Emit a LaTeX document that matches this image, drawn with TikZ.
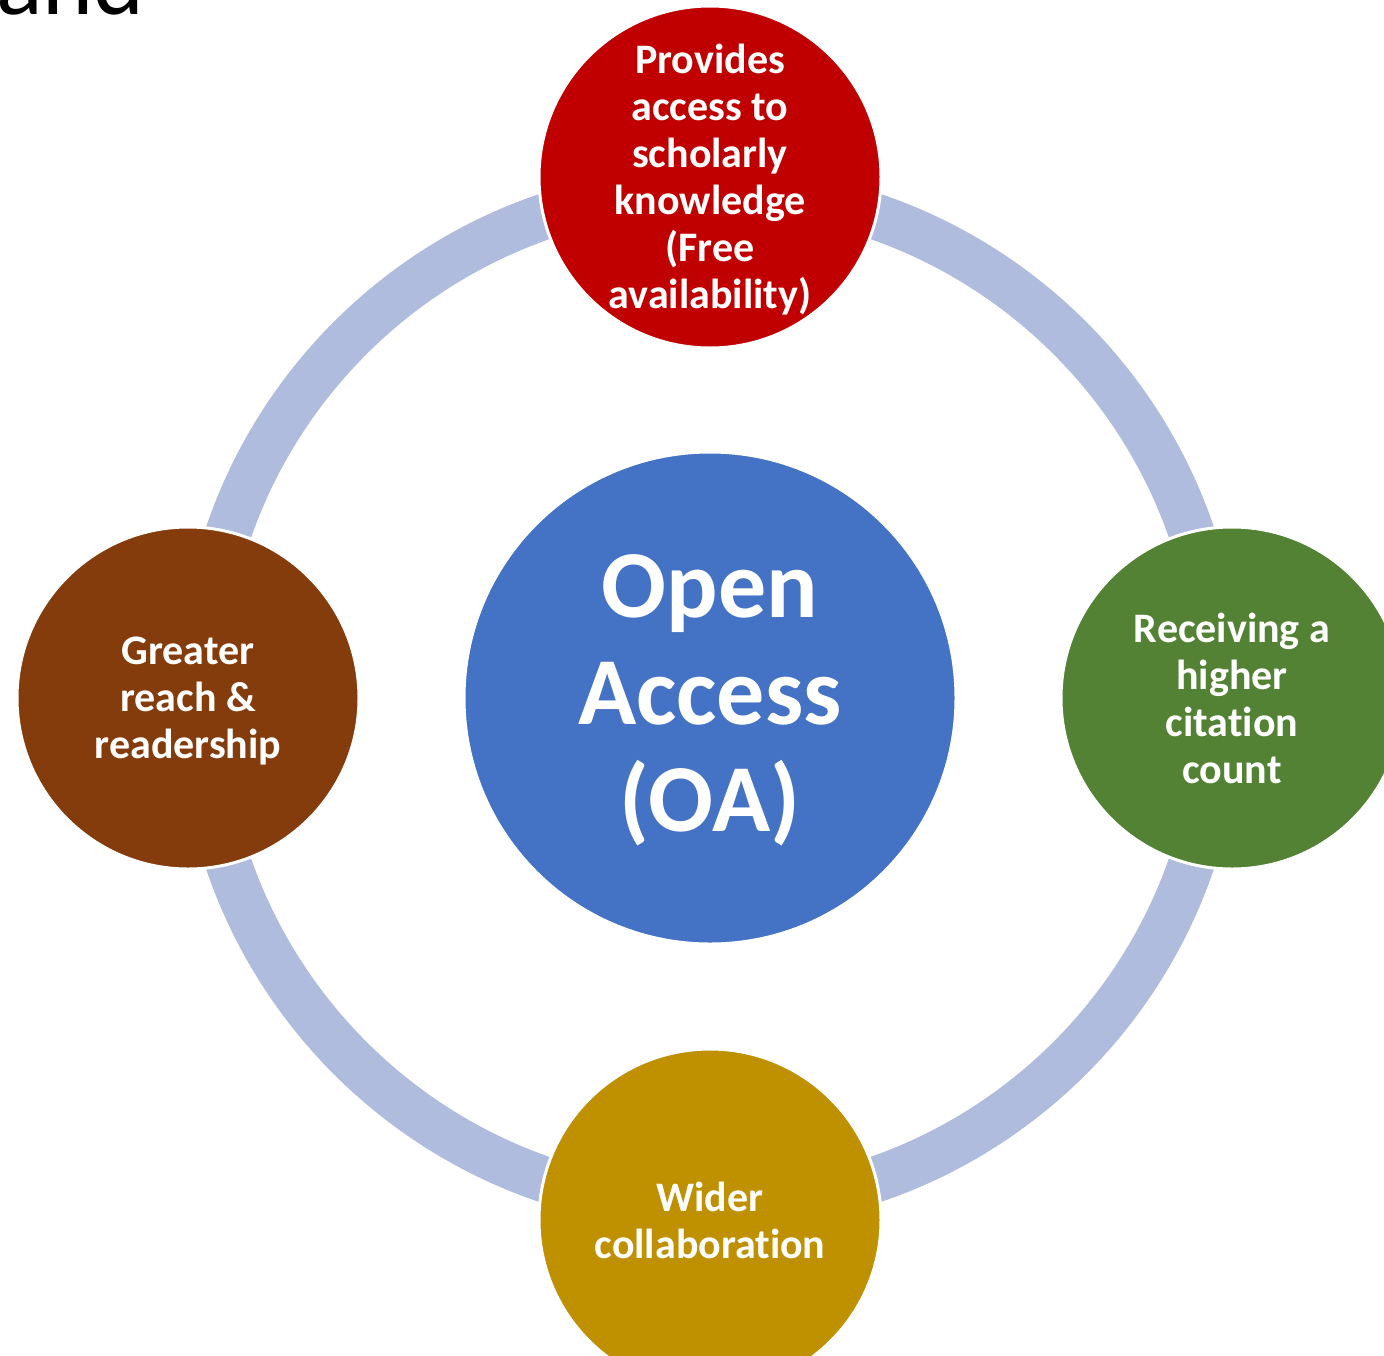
\documentclass[tikz,border=0pt]{standalone}
\usepackage{fontspec}
\setmainfont[RawFeature={-liga}]{Carlito}
\definecolor{ringc}{RGB}{176,188,222}
\definecolor{oared}{HTML}{C00000}
\definecolor{oabrown}{HTML}{843C0C}
\definecolor{oagreen}{HTML}{548235}
\definecolor{oagold}{HTML}{BF9000}
\definecolor{oablue}{HTML}{4472C4}
\begin{document}
\begin{tikzpicture}[x=1pt,y=-1pt,
  ring/.style={draw=ringc,line width=46pt},
  sat/.style={circle,draw=white,line width=3pt,minimum size=342pt,inner sep=0pt},
  lbl/.style={inner sep=0pt,text=white,align=center,font=\fontsize{42}{47}\selectfont\bfseries},
  hub/.style={circle,draw=white,line width=3pt,minimum size=492pt,inner sep=0pt},
  hublbl/.style={inner sep=0pt,text=white,align=center,font=\fontsize{96}{107}\selectfont\bfseries}]
\useasboundingbox (0,0) rectangle (1384,1355);
\clip (0,0) rectangle (1384,1355);
\node[anchor=base west,inner sep=0pt,font=\fontsize{97}{100}\selectfont] (title) at (-4,14) {and};
\coordinate (c) at (710,698);
\draw[ring] (c) circle (509);
\node[hub,fill=oablue] (oa) at (c) {};
\node[hublbl] (oat) at ([yshift=-2pt]oa.center) {Open\\Access\\(OA)};
\node[sat,fill=oared] (top) at (710,177) {};
\node[lbl] (topt) at ([yshift=-3pt]top.center) {Provides\\access to\\scholarly\\knowledge\\(Free\\availability)};
\node[sat,fill=oagreen] (right) at (1232,698) {};
\node[lbl] (rightt) at (right.center) {Receiving a\\higher\\citation\\count};
\node[sat,fill=oagold] (bottom) at (710,1220) {};
\node[lbl] (bottomt) at (bottom.center) {Wider\\collaboration};
\node[sat,fill=oabrown] (left) at (188,698) {};
\node[lbl] (leftt) at ([yshift=-3pt]left.center) {Greater\\reach \&\\readership};
\end{tikzpicture}
\end{document}
